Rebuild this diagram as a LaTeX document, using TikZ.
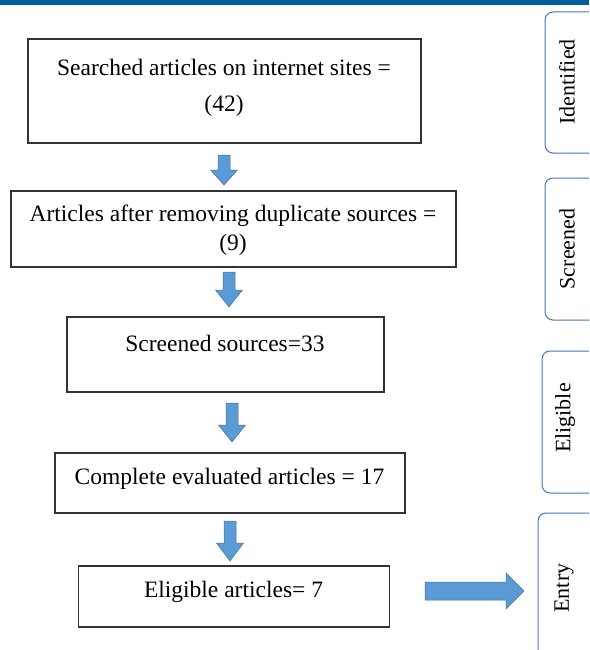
\documentclass[tikz,border=0pt]{standalone}
\usepackage{fontspec}
\setmainfont{Liberation Serif}
\begin{document}
\begin{tikzpicture}[x=1pt,y=-1pt,
  box/.style={draw=black!80,line width=1.2pt,inner sep=0pt,fill=white},
  txt/.style={font=\fontsize{23.5}{26}\selectfont,inner sep=0pt,align=center},
  stxt/.style={font=\fontsize{22}{25}\selectfont,inner sep=0pt,rotate=90},
  side/.style={draw=sideblue,line width=1pt,rounded corners=8pt,fill=white},
  blk/.style={fill=arrowblue,draw=arrowedge,line width=0.5pt}]
\definecolor{arrowblue}{HTML}{5B9BD5}
\definecolor{arrowedge}{HTML}{41719C}
\definecolor{barblue}{HTML}{005E9B}
\definecolor{sideblue}{HTML}{4472C4}
\useasboundingbox (0,0) rectangle (589,650);
\begin{scope}
\clip (0,0) rectangle (589,650);
\fill[barblue] (0,0) rectangle (589,5);
% side tabs
\draw[side] (610,12) -- (545,12) -- (545,153) -- (610,153);
\draw[side] (610,178) -- (545,178) -- (545,320) -- (610,320);
\draw[side] (610,351) -- (542,351) -- (542,493) -- (610,493);
\draw[side] (610,513) -- (538,513) -- (538,670);
\end{scope}
\node[stxt] (lid) at (567,82) {Identified};
\node[stxt] (lsc) at (567,249) {Screened};
\node[stxt] (lel) at (565,418) {Eligible};
\node[stxt] (len) at (564,588) {Entry};
% boxes
\node[box,minimum width=393pt,minimum height=104pt] (b1) at (224.5,91) {};
\node[box,minimum width=445pt,minimum height=76pt] (b2) at (233.5,229) {};
\node[box,minimum width=317pt,minimum height=75pt] (b3) at (225.5,354.5) {};
\node[box,minimum width=350pt,minimum height=60pt] (b4) at (230,483) {};
\node[box,minimum width=311pt,minimum height=61pt] (b5) at (234,596.5) {};
\node[txt] (t1a) at (224,67) {Searched articles on internet sites =};
\node[txt] (t1b) at (224,106) {(42)};
\node[txt] (t2a) at (233,216) {Articles after removing duplicate sources =};
\node[txt] (t2b) at (233,245) {(9)};
\node[txt] (t3) at (225,343) {Screened sources=33};
\node[txt] (t4) at (229.5,479) {Complete evaluated articles = 17};
\node[txt] (t5) at (233.5,592) {Eligible articles= 7};
% down arrows
\newcommand{\dnarrow}[4]{% x, top, headstart, tip
  \draw[blk] (#1-6,#2) -- (#1+6,#2) -- (#1+6,#3) -- (#1+13.5,#3) -- (#1,#4)
    -- (#1-13.5,#3) -- (#1-6,#3) -- cycle;}
\dnarrow{224}{155}{170}{185}
\dnarrow{229}{272}{290}{307}
\dnarrow{232}{403}{425}{442}
\dnarrow{230}{521}{543}{561}
% right arrow
\draw[blk] (425,582) -- (506,582) -- (506,573) -- (524,591) -- (506,609)
  -- (506,600) -- (425,600) -- cycle;
\end{tikzpicture}
\end{document}
